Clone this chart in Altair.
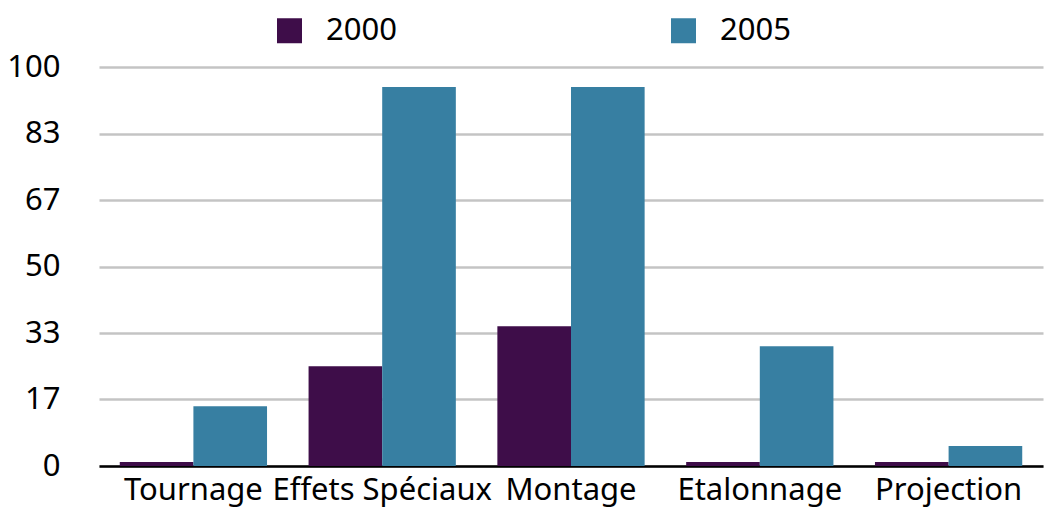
import altair as alt
import pandas as pd

categories = ["Tournage", "Effets Spéciaux", "Montage", "Etalonnage", "Projection"]
years = ["2000", "2005"]
values_2000 = [1, 25, 35, 1, 1]
values_2005 = [15, 95, 95, 30, 5]
y_ticks = [0, 100 / 6, 200 / 6, 50, 400 / 6, 500 / 6, 100]
colors = ["#3e0d49", "#377fa2"]

rows = []
for c, a, b in zip(categories, values_2000, values_2005):
    rows.append({"cat": c, "year": years[0], "value": a})
    rows.append({"cat": c, "year": years[1], "value": b})
df = pd.DataFrame(rows)

FONT = "Noto Sans"

chart = alt.Chart(df).mark_bar().encode(
    x=alt.X(
        "cat:N",
        sort=categories,
        scale=alt.Scale(paddingInner=0.22, paddingOuter=0.11),
        axis=alt.Axis(
            title=None, labelAngle=0, ticks=False, domainColor="black",
            domainWidth=2.5, labelPadding=9, labelFontSize=31, labelFont=FONT,
            labelColor="black", grid=False, labelLimit=500,
        ),
    ),
    xOffset=alt.XOffset("year:N", sort=years),
    y=alt.Y(
        "value:Q",
        scale=alt.Scale(domain=[0, 100], nice=False),
        axis=alt.Axis(
            title=None, values=y_ticks, format=".0f", ticks=False, domain=False,
            grid=True, gridColor="#c4c4c4", gridWidth=2.5, labelPadding=39,
            labelFontSize=31, labelFont=FONT, labelColor="black",
        ),
    ),
    color=alt.Color(
        "year:N",
        scale=alt.Scale(domain=years, range=colors),
        legend=alt.Legend(
            title=None, orient="none", legendX=175, legendY=-52,
            direction="horizontal", columns=2, columnPadding=271,
            symbolType="square", symbolSize=625, symbolStrokeWidth=0,
            labelFontSize=31, labelFont=FONT, labelColor="black",
            labelOffset=21, padding=0,
        ),
    ),
).properties(
    width=944,
    height=399,
    autosize=alt.AutoSizeParams(type="none"),
    padding={"left": 91, "top": 59, "right": 2, "bottom": 42},
).configure_view(stroke=None)

chart.save("out.html", embed_options={"renderer": "svg", "actions": False})
